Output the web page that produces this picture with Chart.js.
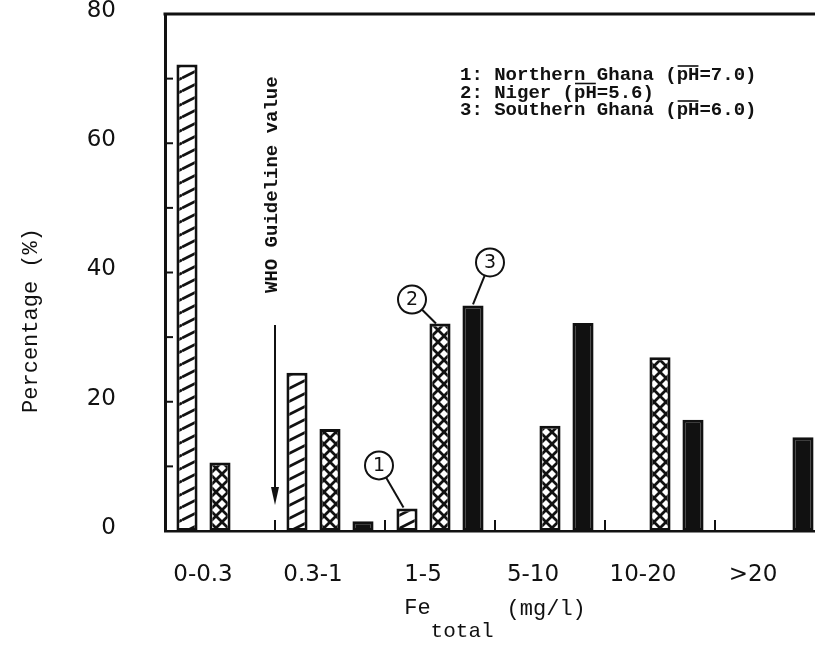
<!DOCTYPE html>
<html>
<head>
<meta charset="utf-8">
<script src="https://cdn.jsdelivr.net/npm/chart.js@4.4.0/dist/chart.umd.min.js"></script>
<style>
    html, body { margin: 0; padding: 0; background: #fff; overflow: hidden; }
    #wrap { position: relative; width: 830px; height: 661px; }
</style>
</head>
<body>
<div id="wrap"><canvas id="fe-chart"></canvas></div>
<script>
// Fe total in well water: share of samples per concentration class
const categories = ['0-0.3', '0.3-1', '1-5', '5-10', '10-20', '>20'];
const seriesNames = ['Northern Ghana', 'Niger', 'Southern Ghana'];
const seriesPH = ['7.0', '5.6', '6.0'];
const northernGhana = [72.2, 24.5, 3.5, 0, 0, 0];
const niger = [10.6, 15.8, 32.1, 16.3, 26.9, 0];
const southernGhana = [0, 1.5, 34.9, 32.2, 17.2, 14.5];
const yTicks = [0, 20, 40, 60, 80];
const yTitle = 'Percentage (%)';
const guidelineLabel = 'WHO Guideline value';
const calloutIndex = 2; // the circled numbers point at the 1-5 class

const INK = '#111';
const MONO = '"Liberation Mono", "DejaVu Sans Mono", monospace';
const SANS = '"DejaVu Sans", sans-serif';

function hatchPattern() {
    const c = document.createElement('canvas');
    c.width = 26; c.height = 13;
    const g = c.getContext('2d');
    g.fillStyle = '#fff';
    g.fillRect(0, 0, 26, 13);
    g.strokeStyle = INK;
    g.lineWidth = 2.8;
    for (const dy of [-13, 0, 13]) {
        g.beginPath();
        g.moveTo(0, 13 + dy);
        g.lineTo(26, dy);
        g.stroke();
    }
    return g.createPattern(c, 'repeat');
}

function crossPattern() {
    const c = document.createElement('canvas');
    c.width = 12; c.height = 12;
    const g = c.getContext('2d');
    g.fillStyle = '#fff';
    g.fillRect(0, 0, 12, 12);
    g.strokeStyle = INK;
    g.lineWidth = 2.8;
    for (const dx of [-12, 0, 12]) {
        g.beginPath();
        g.moveTo(dx, 0); g.lineTo(dx + 12, 12);
        g.moveTo(dx + 12, 0); g.lineTo(dx, 12);
        g.stroke();
    }
    return g.createPattern(c, 'repeat');
}

const fills = [hatchPattern(), crossPattern(), INK];

const decor = {
    id: 'decor',
    afterDraw(chart) {
        const { ctx, chartArea: a, scales: { x, y } } = chart;
        ctx.save();
        ctx.strokeStyle = INK;
        ctx.fillStyle = INK;
        ctx.lineCap = 'butt';

        // frame top
        ctx.lineWidth = 3;
        ctx.beginPath();
        ctx.moveTo(a.left - 1.5, a.top);
        ctx.lineTo(a.right, a.top);
        ctx.lineTo(a.right, a.bottom);
        ctx.stroke();

        // minor ticks inside the frame
        ctx.lineWidth = 2;
        for (let v = 10; v < 80; v += 10) {
            const py = y.getPixelForValue(v);
            ctx.beginPath();
            ctx.moveTo(a.left, py);
            ctx.lineTo(a.left + 8, py);
            ctx.stroke();
        }
        for (let i = 0; i < categories.length - 1; i++) {
            const px = (x.getPixelForValue(i) + x.getPixelForValue(i + 1)) / 2;
            ctx.beginPath();
            ctx.moveTo(px, a.bottom);
            ctx.lineTo(px, a.bottom - 11);
            ctx.stroke();
        }

        // WHO guideline arrow at 0.3 mg/l
        const wx = (x.getPixelForValue(0) + x.getPixelForValue(1)) / 2;
        ctx.lineWidth = 2;
        ctx.beginPath();
        ctx.moveTo(wx, a.top + 311);
        ctx.lineTo(wx, a.bottom - 40);
        ctx.stroke();
        ctx.beginPath();
        ctx.moveTo(wx - 4, a.bottom - 44);
        ctx.lineTo(wx + 4, a.bottom - 44);
        ctx.lineTo(wx, a.bottom - 26);
        ctx.closePath();
        ctx.fill();
        ctx.save();
        ctx.translate(wx - 3, a.top + 279);
        ctx.rotate(-Math.PI / 2);
        ctx.font = 'bold 19px ' + MONO;
        ctx.textAlign = 'left';
        ctx.textBaseline = 'middle';
        ctx.fillText(guidelineLabel, 0, 0);
        ctx.restore();

        // legend text with overlined pH
        ctx.font = 'bold 19px ' + MONO;
        ctx.textAlign = 'left';
        ctx.textBaseline = 'alphabetic';
        const lx = a.left + 295;
        seriesNames.forEach((name, i) => {
            const by = a.top + 66 + i * 17.5;
            const head = (i + 1) + ': ' + name + ' (';
            let cx = lx;
            ctx.fillText(head, cx, by);
            cx += ctx.measureText(head).width;
            const ph = 'pH';
            ctx.fillText(ph, cx, by);
            const pw = ctx.measureText(ph).width;
            ctx.lineWidth = 1.6;
            ctx.beginPath();
            ctx.moveTo(cx + 1, by - 14);
            ctx.lineTo(cx + pw - 1, by - 14);
            ctx.stroke();
            cx += pw;
            ctx.fillText('=' + seriesPH[i] + ')', cx, by);
        });

        // circled series numbers
        const callouts = [[-28, -43, -3.5, -1], [-28, -24, -4, 0], [17, -43, 0, -1]];
        callouts.forEach((c, i) => {
            const el = chart.getDatasetMeta(i).data[calloutIndex];
            const cx = el.x + c[0], cy = el.y + c[1];
            const tx = el.x + c[2], ty = el.y + c[3];
            const r = 14;
            const d = Math.hypot(tx - cx, ty - cy);
            ctx.lineWidth = 2;
            ctx.beginPath();
            ctx.moveTo(cx + (tx - cx) / d * r, cy + (ty - cy) / d * r);
            ctx.lineTo(tx, ty);
            ctx.stroke();
            ctx.beginPath();
            ctx.arc(cx, cy, r, 0, Math.PI * 2);
            ctx.fillStyle = '#fff';
            ctx.fill();
            ctx.stroke();
            ctx.fillStyle = INK;
            ctx.font = '19px ' + SANS;
            ctx.textAlign = 'center';
            ctx.textBaseline = 'middle';
            ctx.fillText(String(i + 1), cx, cy + 1);
        });

        // x title: Fe_total (mg/l)
        ctx.textAlign = 'left';
        ctx.textBaseline = 'alphabetic';
        ctx.font = '22px ' + MONO;
        const wFe = ctx.measureText('Fe').width;
        const wMg = ctx.measureText('(mg/l)').width;
        ctx.font = '21px ' + MONO;
        const wTot = ctx.measureText('total').width;
        const mid = (a.left + a.right) / 2;
        let sx = mid - (wFe + wTot + 13 + wMg) / 2;
        ctx.font = '22px ' + MONO;
        ctx.fillText('Fe', sx, a.bottom + 83);
        ctx.font = '21px ' + MONO;
        ctx.fillText('total', sx + wFe, a.bottom + 106);
        ctx.font = '22px ' + MONO;
        ctx.fillText('(mg/l)', sx + wFe + wTot + 13, a.bottom + 84);

        // y title
        ctx.save();
        ctx.translate(31, (a.top + a.bottom) / 2 + 48);
        ctx.rotate(-Math.PI / 2);
        ctx.textAlign = 'center';
        ctx.textBaseline = 'middle';
        ctx.font = '22px ' + MONO;
        ctx.fillText(yTitle, 0, 0);
        ctx.restore();

        ctx.restore();
    }
};

const ctx = document.getElementById('fe-chart').getContext('2d');
new Chart(ctx, {
    type: 'bar',
    data: {
        labels: categories,
        datasets: [northernGhana, niger, southernGhana].map((values, i) => ({
            label: seriesNames[i],
            data: values,
            backgroundColor: fills[i],
            borderColor: INK,
            borderWidth: c => (c.raw ? 3 : 0),
            borderSkipped: false,
            categoryPercentage: 0.9,
            barPercentage: 0.64
        }))
    },
    options: {
        responsive: true,
        maintainAspectRatio: false,
        animation: false,
        layout: { padding: { top: 14, right: 5, left: 0, bottom: 0 } },
        plugins: {
            legend: { display: false },
            tooltip: { enabled: false }
        },
        scales: {
            x: {
                grid: { display: false, drawTicks: false },
                border: { display: true, color: INK, width: 2.5 },
                ticks: {
                    color: INK,
                    font: { family: SANS, size: 23 },
                    padding: 30,
                    labelOffset: -17,
                    maxRotation: 0
                },
                afterFit: s => { s.height = 130; }
            },
            y: {
                min: 0,
                max: 80,
                grid: { display: false, drawTicks: false },
                border: { display: true, color: INK, width: 3 },
                ticks: {
                    color: INK,
                    font: { family: SANS, size: 23 },
                    padding: 49,
                    labelOffset: -3
                },
                afterBuildTicks: s => { s.ticks = yTicks.map(v => ({ value: v })); },
                afterFit: s => {
                    s.width = 165;
                    // tick padding would otherwise push the plot top down
                    s.paddingTop = 0;
                    s.paddingBottom = 0;
                }
            }
        }
    },
    plugins: [decor]
});
</script>
</body>
</html>
